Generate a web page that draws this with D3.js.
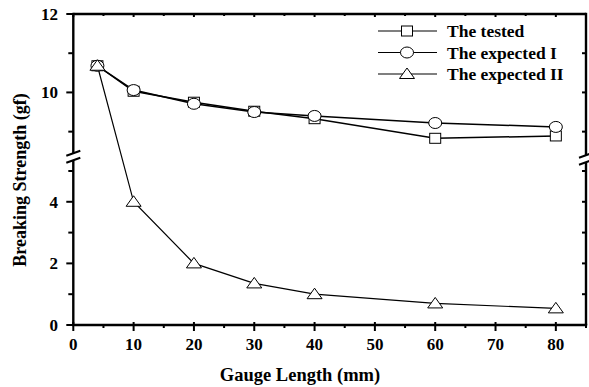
<!DOCTYPE html>
<html><head><meta charset="utf-8">
<script src="https://cdn.jsdelivr.net/npm/d3@7"></script>
<style>body{margin:0;background:#fff}svg{display:block}text{font-family:"Liberation Serif","Times New Roman",serif;font-weight:bold;fill:#000}</style>
</head><body><svg id="c" width="589" height="387"></svg>
<script>
const gaugeLength = [4, 10, 20, 30, 40, 60, 80];
const tested = [10.68, 10.03, 9.75, 9.52, 9.33, 8.83, 8.89];
const expectedI = [10.68, 10.06, 9.71, 9.50, 9.40, 9.22, 9.12];
const expectedII = [10.68, 4.0, 2.0, 1.35, 1.0, 0.70, 0.54];
const seriesNames = ["The tested", "The expected I", "The expected II"];
const xTicks = [0, 10, 20, 30, 40, 50, 60, 70, 80];
const yUpperTicks = [10, 12];
const yLowerTicks = [0, 2, 4];

const svg = d3.select("#c");
const L = 73.3, R = 586, T = 14, B = 325;
const x = d3.scaleLinear().domain([0, 85]).range([L, R]);
const yUp = d3.scaleLinear().domain([8.45, 12]).range([153.2, T]);
const yLow = d3.scaleLinear().domain([0, 5.35]).range([B, 160.2]);
const y = v => v >= 7 ? yUp(v) : yLow(v);

const g = svg.append("g");
const axW = 2.4;
function line(x1,y1,x2,y2,w){g.append("line").attr("x1",x1).attr("y1",y1).attr("x2",x2).attr("y2",y2).attr("stroke","#000").attr("stroke-width",w);}
line(L, T, R, T, axW);
line(L - 1.2, B, R + 1.2, B, axW);
line(L, T - 1.2, L, yUp.range()[0], axW);
line(L, yLow.range()[1], L, B, axW);
line(R, T - 1.2, R, yUp.range()[0] + 2, axW);
line(R, yLow.range()[1] + 2, R, B, axW);

// break marks
[[L, 0], [R, 2]].forEach(([xx, off]) => {
  const ya = yUp.range()[0] + off, yb = yLow.range()[1] + off;
  line(xx - 7, ya + 2.5, xx + 7, ya - 2.5, 2);
  line(xx - 7, yb + 2.5, xx + 7, yb - 2.5, 2);
});

const upAll = d3.range(9, 12.01, 1), lowAll = d3.range(0, 5.01, 1);
upAll.forEach(v => { const maj = yUpperTicks.includes(v); line(L - (maj ? 7 : 5), yUp(v), L, yUp(v), 2); line(R - 4, yUp(v), R, yUp(v), 2); });
lowAll.forEach(v => { const maj = yLowerTicks.includes(v); line(L - (maj ? 7 : 5), yLow(v), L, yLow(v), 2); line(R - 4, yLow(v), R, yLow(v), 2); });
const fs = 17;
yUpperTicks.forEach(v => g.append("text").attr("x", 58).attr("y", yUp(v)).attr("dy", "0.35em").attr("text-anchor", "end").attr("font-size", fs).text(v));
yLowerTicks.forEach(v => g.append("text").attr("x", 58).attr("y", yLow(v)).attr("dy", "0.35em").attr("text-anchor", "end").attr("font-size", fs).text(v));

d3.range(0, 85.1, 5).forEach(v => {
  const maj = v % 10 === 0;
  line(x(v), B, x(v), B + (maj ? 6 : 3), 2);
  line(x(v), T, x(v), T + (maj ? 3 : 2), 2);
  if (maj) { line(x(v), B, x(v), B - 3, 2); }
});
xTicks.forEach(v => g.append("text").attr("x", x(v)).attr("y", 350).attr("text-anchor", "middle").attr("font-size", fs).text(v));

g.append("text").attr("x", 300).attr("y", 381).attr("text-anchor", "middle").attr("font-size", 18.5).text("Gauge Length (mm)");
g.append("text").attr("transform", "translate(26,180) rotate(-90)").attr("text-anchor", "middle").attr("font-size", 18).text("Breaking Strength (gf)");

const mk = arr => d3.line().x((d, i) => x(gaugeLength[i])).y(d => y(d))(arr);
g.append("path").attr("d", mk(expectedII)).attr("fill", "none").attr("stroke", "#000").attr("stroke-width", 1.2);
g.append("path").attr("d", mk(tested)).attr("fill", "none").attr("stroke", "#000").attr("stroke-width", 1.5);
g.append("path").attr("d", mk(expectedI)).attr("fill", "none").attr("stroke", "#000").attr("stroke-width", 1.5);

function square(cx, cy){ g.append("rect").attr("x", cx - 5.5).attr("y", cy - 5).attr("width", 11).attr("height", 10).attr("fill", "#fff").attr("stroke", "#000").attr("stroke-width", 1); }
function circle(cx, cy){ g.append("ellipse").attr("cx", cx).attr("cy", cy).attr("rx", 6.5).attr("ry", 5.5).attr("fill", "#fff").attr("stroke", "#000").attr("stroke-width", 1); }
function tri(cx, cy){ g.append("path").attr("d", `M${cx-7.5},${cy+4.5}L${cx},${cy-6}L${cx+7.5},${cy+4.5}Z`).attr("fill", "#fff").attr("stroke", "#000").attr("stroke-width", 1); }

tested.forEach((d, i) => square(x(gaugeLength[i]), y(d)));
expectedI.forEach((d, i) => circle(x(gaugeLength[i]), y(d)));
expectedII.forEach((d, i) => tri(x(gaugeLength[i]), y(d)));

const markers = [square, circle, tri];
seriesNames.forEach((n, i) => {
  const yy = 31 + i * 21.5;
  line(378, yy, 437, yy, 1.2);
  markers[i](407, yy);
  g.append("text").attr("x", 447).attr("y", yy).attr("dy", "0.35em").attr("font-size", 17.5).text(n);
});
</script></body></html>
